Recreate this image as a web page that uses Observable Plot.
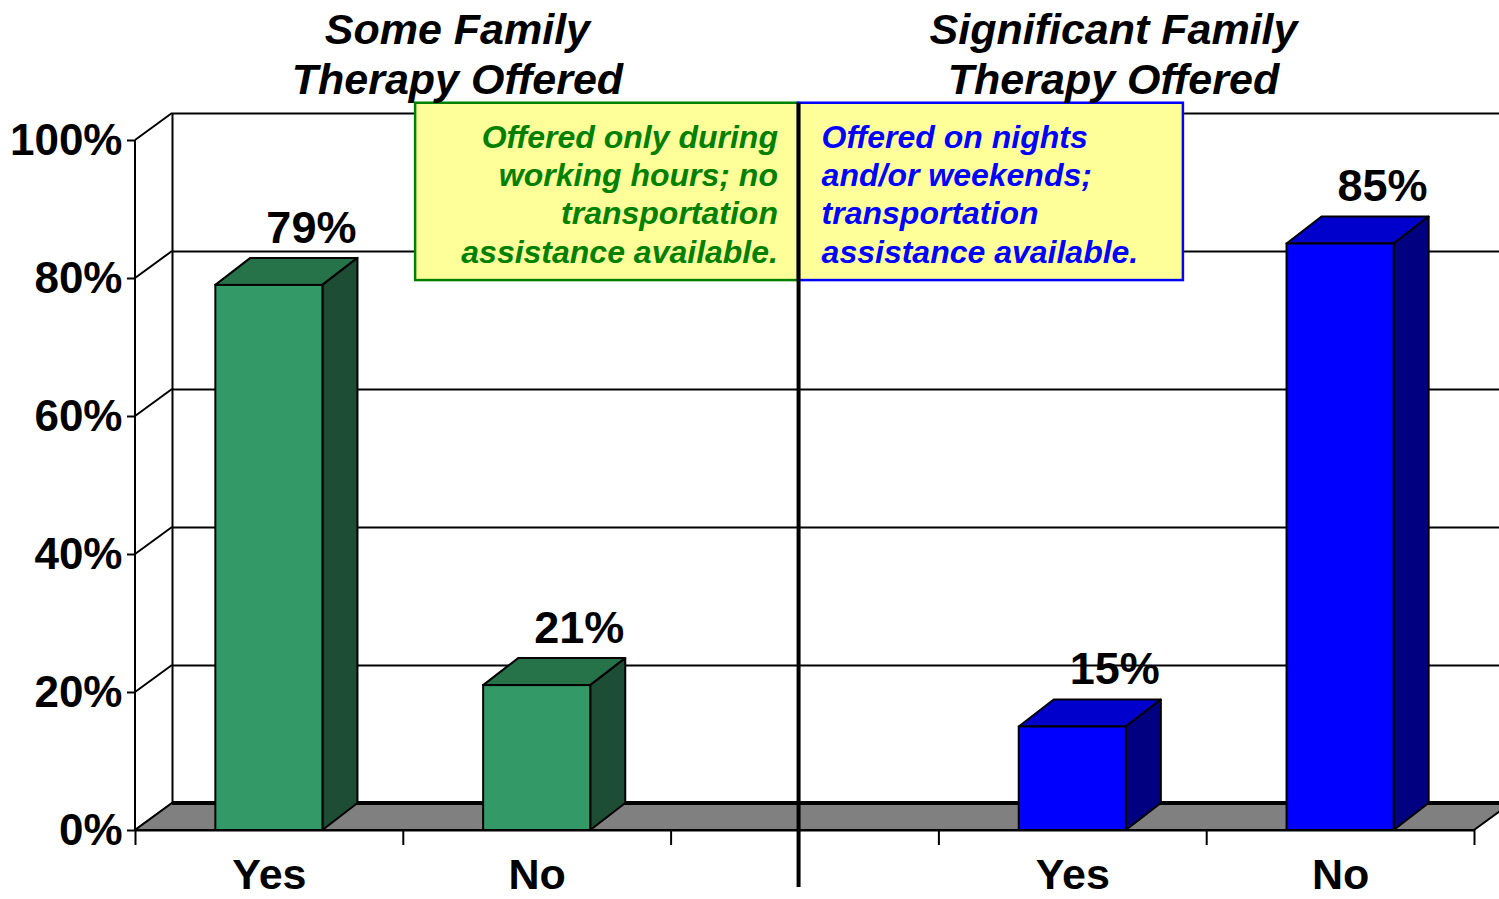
<!DOCTYPE html>
<html>
<head>
<meta charset="utf-8">
<script src="https://cdn.jsdelivr.net/npm/d3@7"></script>
<script src="https://cdn.jsdelivr.net/npm/@observablehq/plot@0.6"></script>
<style>
  html, body { margin: 0; padding: 0; background: #fff; overflow: hidden; }
  #chart svg { display: block; }
  #chart svg [aria-label$="axis tick"] { stroke-width: 2px; }
  #chart svg .tick line { stroke-width: 2px; }
</style>
</head>
<body>
<div id="chart"></div>
<script>
// ---- data ----
const groupTitles = ["Some Family\nTherapy Offered", "Significant Family\nTherapy Offered"];
const categories = ["Yes", "No"];
const someFamilyValues = [79, 21];
const significantFamilyValues = [15, 85];
const someFamilyLabels = ["79%", "21%"];
const significantFamilyLabels = ["15%", "85%"];
const yTicks = [0, 20, 40, 60, 80, 100];
const yTickLabels = ["0%", "20%", "40%", "60%", "80%", "100%"];
const xSlotEdges = [0, 1, 2, 3, 4, 5];
const notes = [
  "Offered only during\nworking hours; no\ntransportation\nassistance available.",
  "Offered on nights\nand/or weekends;\ntransportation\nassistance available."
];

// ---- build table ----
const groupValues = [someFamilyValues, significantFamilyValues];
const groupLabels = [someFamilyLabels, significantFamilyLabels];
const bars = [];
groupValues.forEach((vals, g) => {
  vals.forEach((v, i) => {
    bars.push({group: g, category: categories[i], value: v, label: groupLabels[g][i], pos: g * 3 + i + 0.5});
  });
});

const palette = [
  {front: "#339966", top: "#267349", side: "#1d4d35"},
  {front: "#0000ff", top: "#0000cc", side: "#000080"}
];

const FONT = "'Liberation Sans', Arial, Helvetica, sans-serif";
const DX = 37, DY = -27;     // wall depth
const BDX = 35, BDY = -27;   // bar depth
const HALF = 0.2;            // half bar width in slot units

// walls & floor
function walls(index, scales) {
  const {x, y} = scales;
  const g = d3.create("svg:g");
  const x0 = x(0), x5 = x(5), y0 = y(0);
  for (const t of yTicks) {
    g.append("line")
      .attr("x1", x0).attr("y1", y(t))
      .attr("x2", x0 + DX).attr("y2", y(t) + DY)
      .attr("stroke", "black").attr("stroke-width", 2);
  }
  g.append("line").attr("x1", x0).attr("x2", x0).attr("y1", y(100)).attr("y2", y0)
    .attr("stroke", "black").attr("stroke-width", 2);
  g.append("path")
    .attr("d", `M${x0},${y0}L${x5},${y0}L${x5 + DX},${y0 + DY}L${x0 + DX},${y0 + DY}Z`)
    .attr("fill", "#808080").attr("stroke", "black").attr("stroke-width", 2).attr("stroke-linejoin", "round");
  g.append("line").attr("x1", x0 + DX).attr("x2", x5 + DX).attr("y1", y0 + DY).attr("y2", y0 + DY)
    .attr("stroke", "black").attr("stroke-width", 4);
  return g.node();
}

// bar top & side faces
function barFaces(index, scales) {
  const {x, y} = scales;
  const g = d3.create("svg:g");
  for (const b of bars) {
    const c = palette[b.group];
    const xl = x(b.pos - HALF), xr = x(b.pos + HALF), yb = y(0), yt = y(b.value);
    g.append("path")
      .attr("d", `M${xl},${yt}L${xr},${yt}L${xr + BDX},${yt + BDY}L${xl + BDX},${yt + BDY}Z`)
      .attr("fill", c.top).attr("stroke", "black").attr("stroke-width", 2).attr("stroke-linejoin", "round");
    g.append("path")
      .attr("d", `M${xr},${yt}L${xr + BDX},${yt + BDY}L${xr + BDX},${yb + BDY}L${xr},${yb}Z`)
      .attr("fill", c.side).attr("stroke", "black").attr("stroke-width", 2).attr("stroke-linejoin", "round");
  }
  return g.node();
}

const plot = Plot.plot({
  width: 1499,
  height: 899,
  marginLeft: 135,
  marginRight: 25,
  marginTop: 140,
  marginBottom: 69,
  x: {domain: [0, 5], ticks: xSlotEdges, tickFormat: () => "", tickSize: 15, label: null},
  y: {domain: [0, 100], ticks: yTicks, tickFormat: d => yTickLabels[yTicks.indexOf(d)], tickSize: 8, tickPadding: 5, label: null},
  style: {fontFamily: FONT, fontSize: "44px", fontWeight: "bold", color: "black", background: "white"},
  marks: [
    Plot.ruleY(yTicks.slice(1), {x1: 0, x2: 5, dx: DX, dy: DY, stroke: "black", strokeWidth: 2}),
    Plot.ruleX([0], {y1: 0, y2: 100, dx: DX, dy: DY, stroke: "black", strokeWidth: 2}),
    walls,
    barFaces,
    Plot.rect(bars.filter(b => b.group === 0), {x1: d => d.pos - HALF, x2: d => d.pos + HALF, y1: 0, y2: "value", fill: palette[0].front, stroke: "black", strokeWidth: 2}),
    Plot.rect(bars.filter(b => b.group === 1), {x1: d => d.pos - HALF, x2: d => d.pos + HALF, y1: 0, y2: "value", fill: palette[1].front, stroke: "black", strokeWidth: 2}),
    Plot.ruleY([0], {x1: 0, x2: 5, stroke: "black", strokeWidth: 2}),
    Plot.rect([notes[0]], {x1: 1.046, x2: 2.476, y1: 79.7, y2: 105.4, fill: "#ffff99", stroke: "#008000", strokeWidth: 2.5}),
    Plot.rect([notes[1]], {x1: 2.476, x2: 3.913, y1: 79.7, y2: 105.4, fill: "#ffff99", stroke: "#0000ff", strokeWidth: 2.5}),
    Plot.text([notes[0]], {x: 2.399, frameAnchor: "top", dy: 122, text: d => d, textAnchor: "end", lineAnchor: "bottom", lineHeight: 1.19, fontSize: 32, fontStyle: "italic", fontWeight: "bold", fill: "#008000"}),
    Plot.text([notes[1]], {x: 2.562, frameAnchor: "top", dy: 122, text: d => d, textAnchor: "start", lineAnchor: "bottom", lineHeight: 1.19, fontSize: 32, fontStyle: "italic", fontWeight: "bold", fill: "#0000ff"}),
    Plot.ruleX([2.476], {y1: -8.26, y2: 105.4, stroke: "black", strokeWidth: 4}),
    Plot.text(bars, {x: "pos", y: "value", text: "label", dx: 42, dy: -57, fontSize: 45, fontWeight: "bold", fill: "black"}),
    Plot.text(bars, {x: "pos", y: 0, text: "category", dy: 45, fontSize: 43, fontWeight: "bold", fill: "black"}),
    Plot.text(groupTitles, {x: [1.202, 3.652], frameAnchor: "top", dy: -47, text: d => d, lineAnchor: "bottom", lineHeight: 1.163, fontSize: 43, fontStyle: "italic", fontWeight: "bold", fill: "black"})
  ]
});

document.getElementById("chart").appendChild(plot);
</script>
</body>
</html>
